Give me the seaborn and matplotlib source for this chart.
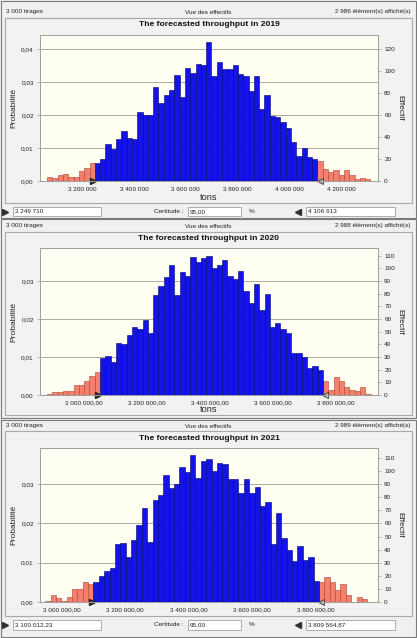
import numpy as np
import pandas as pd
import matplotlib
matplotlib.use("Agg")
import matplotlib.pyplot as plt
from matplotlib.patches import Rectangle
from matplotlib.ticker import FuncFormatter, FixedLocator
import seaborn as sns

sns.set_theme(style="white")
plt.rcParams['font.family'] = ['Liberation Sans', 'DejaVu Sans']

# ---------------- data ----------------
years = ["2019", "2020", "2021"]
trials = 3000
displayed = ["2 986", "2 988", "2 989"]

# certainty bounds (red/blue split)
lower_2019, upper_2019 = 3249710.0, 4106613.0
lower_2020, upper_2020 = 3050800.0, 3757700.0
lower_2021, upper_2021 = 3100012.23, 3809564.87

# bar counts (Effectif): left tail, certainty range, right tail
left_2019 = [4, 3, 5, 6, 4, 4, 9, 12, 16]
core_2019 = [16, 20, 34, 29, 38, 45, 39, 38, 63, 60, 60, 85, 71, 78, 83, 96, 76, 103, 98, 106,
             105, 126, 95, 108, 102, 102, 105, 97, 95, 82, 95, 65, 78, 59, 58, 54, 48, 35, 23, 30,
             22, 20]
right_2019 = [18, 11, 8, 10, 5, 10, 5, 2, 3, 2]

left_2020 = [1, 2, 2, 3, 3, 8, 8, 11, 15, 18]
core_2020 = [29, 31, 26, 41, 40, 47, 54, 52, 59, 49, 79, 86, 93, 103, 79, 97, 94, 109, 105, 108,
             110, 100, 103, 107, 94, 92, 98, 82, 73, 88, 67, 80, 54, 57, 52, 49, 33, 33, 30, 21,
             23, 20]
right_2020 = [11, 4, 14, 11, 6, 4, 3, 6, 1]

left_2021 = [1, 5, 3, 1, 4, 10, 10, 15, 14]
core_2021 = [15, 20, 24, 26, 44, 45, 34, 47, 59, 72, 46, 78, 82, 97, 87, 90, 103, 99, 112, 95,
             108, 109, 100, 106, 105, 94, 94, 83, 94, 83, 88, 73, 76, 44, 68, 49, 40, 31, 43, 32,
             34, 16]
right_2021 = [15, 19, 15, 9, 14, 5, 0, 4, 2]

xticks_2019 = [3200000, 3400000, 3600000, 3800000, 4000000, 4200000]
xticks_2020 = [3000000, 3200000, 3400000, 3600000, 3800000]
xticks_2021 = [3000000, 3200000, 3400000, 3600000, 3800000]
yticks_2019 = [0.0, 0.01, 0.02, 0.03, 0.04]
yticks_2020 = [0.0, 0.01, 0.02, 0.03]
yticks_2021 = [0.0, 0.01, 0.02, 0.03]
rticks_2019 = list(range(0, 121, 20))
rticks_2020 = list(range(0, 111, 10))
rticks_2021 = list(range(0, 111, 10))
lower_text = ["3 249 710", None, "3 100 012,23"]
upper_text = ["4 106 613", None, "3 809 564,87"]
certainty_text = "95,00"

# ---------------- layout (pixels) ----------------
W, H = 417, 638
BLUE, BLUE_E = "#1414e6", "#000078"
RED, RED_E = "#f2806c", "#b04030"
PLOT_BG = "#fffff2"
BG = "#f0f0f0"

fig = plt.figure(figsize=(W / 100, H / 100), dpi=100, facecolor=BG)
bg = fig.add_axes([0, 0, 1, 1], zorder=0)
bg.set_xlim(0, W)
bg.set_ylim(H, 0)
bg.axis("off")


def ax_rect(l, t, r, b):
    return [l / W, 1 - b / H, (r - l) / W, (b - t) / H]


panels = [
    dict(year=years[0], lo=lower_2019, hi=upper_2019, left=left_2019, core=core_2019, right=right_2019,
         xticks=xticks_2019, yticks=yticks_2019, rticks=rticks_2019, xlim=(3038460, 4339700), ytop=0.0442,
         rect=(40, 35, 378, 181), win=(1, 1, 416, 218), frame=(5, 18, 412, 203), head=12, title=25,
         xlab=197, dec=False, bottom=211.5),
    dict(year=years[1], lo=lower_2020, hi=upper_2020, left=left_2020, core=core_2020, right=right_2020,
         xticks=xticks_2020, yticks=yticks_2020, rticks=rticks_2020, xlim=(2860300, 3932300), ytop=0.0387,
         rect=(40, 248, 378, 395), win=(1, 219, 416, 418), frame=(5, 232, 412, 415), head=226, title=239,
         xlab=410, dec=True, bottom=None),
    dict(year=years[2], lo=lower_2021, hi=upper_2021, left=left_2021, core=core_2021, right=right_2021,
         xticks=xticks_2021, yticks=yticks_2021, rticks=rticks_2021, xlim=(2931800, 3995300), ytop=0.0392,
         rect=(40, 448, 378, 602), win=(1, 420, 416, 637), frame=(5, 431, 412, 616), head=426, title=438,
         xlab=None, dec=True, bottom=625),
]

small = 4.6

for i, p in enumerate(panels):
    # window chrome
    wl, wt, wr, wb = p["win"]
    bg.add_patch(Rectangle((wl, wt), wr - wl, wb - wt, fill=False, ec="#7a7a7a", lw=0.8))
    fl, ft, fr, fb = p["frame"]
    bg.add_patch(Rectangle((fl, ft), fr - fl, fb - ft, fc="#f2f2f2", ec="#a8a8a8", lw=0.8))
    bg.text(6, p["head"], "3 000 tirages", fontsize=small, va="center", ha="left", color="#222222")
    bg.text(208, p["head"], "Vue des effectifs", fontsize=small, va="center", ha="center", color="#222222")
    bg.text(411, p["head"], f"{displayed[i]} élément(s) affiché(s)", fontsize=small, va="center",
            ha="right", color="#222222")
    bg.text(209, p["title"], f"The forecasted throughput in {p['year']}", fontsize=6.1,
            fontweight="bold", ha="center", va="center", color="#111111")
    if p["xlab"] is not None:
        bg.text(209, p["xlab"], "tons", fontsize=6.6, ha="center", va="center", color="#222222")

    # bottom control row
    if p["bottom"] is not None:
        y = p["bottom"]
        bg.plot([5.5], [y], marker=">", ms=4.5, color="#303030", mec="#303030")
        bg.add_patch(Rectangle((13, y - 4.7), 88, 9.4, fc="white", ec="#a0a0a0", lw=0.6))
        bg.text(15, y, lower_text[i], fontsize=small, va="center", ha="left", color="#222222")
        bg.text(183, y, "Certitude :", fontsize=small, va="center", ha="right", color="#222222")
        bg.add_patch(Rectangle((188, y - 4.7), 53, 9.4, fc="white", ec="#a0a0a0", lw=0.6))
        bg.text(190, y, certainty_text, fontsize=small, va="center", ha="left", color="#222222")
        bg.text(249, y, "%", fontsize=small, va="center", ha="left", color="#222222")
        bg.plot([298], [y], marker="<", ms=4.5, color="#303030", mec="#303030")
        bg.add_patch(Rectangle((306, y - 4.7), 89, 9.4, fc="white", ec="#a0a0a0", lw=0.6))
        bg.text(308, y, upper_text[i], fontsize=small, va="center", ha="left", color="#222222")

    # histogram data
    n_left, n_core, n_right = len(p["left"]), len(p["core"]), len(p["right"])
    width = (p["hi"] - p["lo"]) / n_core
    start = p["lo"] - n_left * width
    n_all = n_left + n_core + n_right
    edges = [float(start + width * k) for k in range(n_all + 1)]
    centers = [(edges[k] + edges[k + 1]) / 2 for k in range(n_all)]
    counts = np.array(p["left"] + p["core"] + p["right"], dtype=float)
    zone = ["tail"] * n_left + ["core"] * n_core + ["tail"] * n_right
    df = pd.DataFrame({"value": centers, "prob": counts / trials, "zone": zone})

    ax = fig.add_axes(ax_rect(*p["rect"]), zorder=2)
    ax.set_facecolor(PLOT_BG)
    sns.histplot(data=df[df.zone == "tail"], x="value", weights="prob", bins=edges, ax=ax,
                 color=RED, edgecolor=RED_E, linewidth=0.4, alpha=1)
    sns.histplot(data=df[df.zone == "core"], x="value", weights="prob", bins=edges, ax=ax,
                 color=BLUE, edgecolor=BLUE_E, linewidth=0.4, alpha=1)

    ax.set_xlim(*p["xlim"])
    ax.set_ylim(0, p["ytop"])
    ax.set_xlabel("")
    ax.set_ylabel("Probabilité", fontsize=6, color="#222222", labelpad=2.5)
    ax.yaxis.set_major_locator(FixedLocator(p["yticks"]))
    ax.xaxis.set_major_locator(FixedLocator(p["xticks"]))
    ax.yaxis.set_major_formatter(FuncFormatter(lambda v, pos: f"{v:.2f}".replace(".", ",")))
    if p["dec"]:
        fmt = lambda v, pos: f"{v:,.2f}".replace(",", " ").replace(".", ",")
    else:
        fmt = lambda v, pos: f"{v:,.0f}".replace(",", " ")
    ax.xaxis.set_major_formatter(FuncFormatter(fmt))
    ax.tick_params(axis="both", labelsize=small, colors="#222222", length=2.5, width=0.5,
                   direction="out", pad=2)
    ax.tick_params(axis="x", length=2)
    ax.yaxis.grid(True, color="#aaaaa0", lw=0.7)
    ax.xaxis.grid(False)
    ax.set_axisbelow(True)
    for s in ax.spines.values():
        s.set_color("#a0a0a0")
        s.set_linewidth(0.7)
    ax.tick_params(axis="y", colors="#a0a0a0", labelcolor="#222222")
    ax.tick_params(axis="x", colors="#a0a0a0", labelcolor="#222222")

    # certainty markers
    ax.plot([p["lo"] - width * 0.35], [0.0], marker=">", ms=5, color="#404040", mec="#202020",
            clip_on=False, zorder=5)
    ax.plot([p["hi"] + width * 0.45], [0.0], marker="<", ms=5, color="#c8c8c8", mec="#303030",
            mew=0.6, clip_on=False, zorder=5)

    ax2 = ax.twinx()
    ax2.set_ylim(0, p["ytop"] * trials)
    ax2.yaxis.set_major_locator(FixedLocator(p["rticks"]))
    ax2.yaxis.set_major_formatter(FuncFormatter(lambda v, pos: f"{v:.0f}"))
    ax2.tick_params(axis="y", labelsize=small, colors="#a0a0a0", labelcolor="#222222", length=2.5,
                    width=0.5, pad=2)
    ax2.set_ylabel("Effectif", fontsize=6, color="#222222", rotation=270, labelpad=6)
    ax2.grid(False)
    for s in ax2.spines.values():
        s.set_color("#a0a0a0")
        s.set_linewidth(0.7)

fig.savefig("out.png", dpi=100, facecolor=BG)
